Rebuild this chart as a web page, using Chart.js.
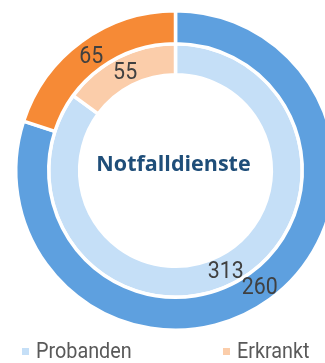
<!DOCTYPE html>
<html>
<head>
<meta charset="utf-8">
<script src="https://cdn.jsdelivr.net/npm/chart.js@4/dist/chart.umd.min.js"></script>
<style>
  body { margin: 0; background: #fff; overflow: hidden; }
  #wrap { position: relative; width: 325px; height: 363px; overflow: hidden; }
  #chart { position: absolute; left: 0; top: 0; }
  .key {
    position: absolute; top: 337px; display: flex; align-items: center;
    font: 22.5px Roboto, sans-serif; color: #595959; white-space: nowrap;
  }
  .key i { display: inline-block; width: 7px; height: 7px; margin: 3px 7px 0 0; }
  .key span { display: inline-block; transform: scaleX(0.88); transform-origin: left center; }
</style>
</head>
<body>
<div id="wrap">
  <canvas id="chart" width="351" height="341"></canvas>
</div>
<script>
const labels = ["Probanden", "Erkrankt"];
const aussen = [260, 65];   // outer ring
const innen = [313, 55];    // inner ring
const aussenFarben = ["#5EA0DF", "#F68A36"];
const innenFarben = ["#C5DFF7", "#FBCDAA"];
const titel = "Notfalldienste";

// value labels on each arc + title in the hole
const beschriftung = {
  id: "beschriftung",
  afterDatasetsDraw(chart) {
    const ctx = chart.ctx;
    ctx.save();
    ctx.textAlign = "center";
    ctx.textBaseline = "middle";
    ctx.font = "24px Roboto, sans-serif";
    ctx.fillStyle = "#404040";
    chart.data.datasets.forEach((ds, i) => {
      chart.getDatasetMeta(i).data.forEach((arc, j) => {
        const p = arc.getCenterPoint();
        ctx.save();
        ctx.translate(p.x, p.y + 2);
        ctx.scale(0.89, 1);  // narrow digits
        ctx.fillText(ds.data[j], 0, 0);
        ctx.restore();
      });
    });
    const mitte = chart.getDatasetMeta(0).data[0];
    ctx.font = 'bold 21.5px "Open Sans", sans-serif';
    ctx.fillStyle = "#1F4E79";
    ctx.fillText(titel, mitte.x - 2, mitte.y - 6);
    ctx.restore();
  }
};

new Chart(document.getElementById("chart"), {
  type: "doughnut",
  data: {
    labels: labels,
    datasets: [
      { data: aussen, backgroundColor: aussenFarben, weight: 33 },
      { data: innen, backgroundColor: innenFarben, weight: 31 }
    ]
  },
  options: {
    responsive: false,
    animation: false,
    cutout: "60%",
    layout: { padding: { top: 9, bottom: 9, left: 14, right: 14 } },
    elements: { arc: { borderWidth: 3.5, borderColor: "#fff" } },
    plugins: {
      legend: { display: false },
      tooltip: { enabled: false }
    }
  },
  plugins: [beschriftung]
});

// legend below the rings
const pos = [22, 223];
labels.forEach((name, i) => {
  const el = document.createElement("div");
  el.className = "key";
  el.style.left = pos[i] + "px";
  el.innerHTML = '<i style="background:' + innenFarben[i] + '"></i><span>' + name + '</span>';
  document.getElementById("wrap").appendChild(el);
});
</script>
</body>
</html>
